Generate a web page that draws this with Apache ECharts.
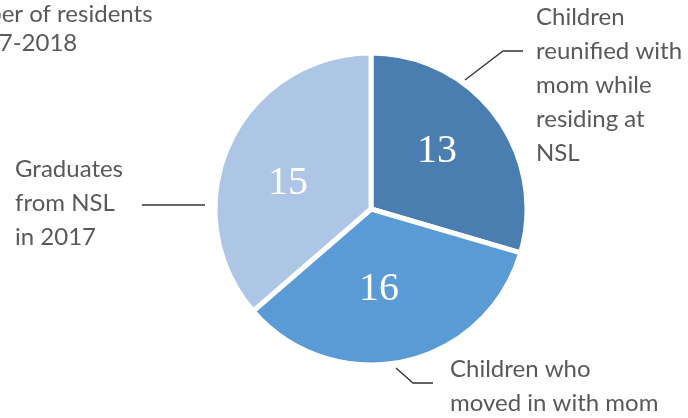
<!DOCTYPE html>
<html>
<head>
<meta charset="utf-8">
<script src="https://cdn.jsdelivr.net/npm/echarts@6/dist/echarts.min.js"></script>
<style>html,body{margin:0;padding:0;background:#fff}#c{width:688px;height:418px}</style>
</head>
<body>
<div id="c"></div>
<script>
const categories = [
  'Children\nreunified with\nmom while\nresiding at\nNSL',
  'Children who\nmoved in with mom',
  'Graduates\nfrom NSL\nin 2017'
];
// numbers printed on the slices
const values = [13, 16, 15];
// slice sizes as drawn in the picture (angles)
const sliceShares = [13, 15, 16];
const colors = ['#4a7eb0', '#5a9bd6', '#adc6e6'];
const titleLines = ['Number of residents', '2017-2018'];

// label layout (pixel positions for the 688x418 canvas)
const outerLabelPos = [
  { x: 536, y: 0, line: [[465, 80], [503, 51], [523, 51]] },
  { x: 450, y: 352, line: [[396, 368], [413, 383], [433, 383]] },
  { x: 15, y: 152, line: [[205, 205], [174, 205], [142, 205]] }
];
const innerLabelPos = [[437, 151], [379, 289], [288, 183]];

const data = categories.map((n, i) => ({ name: n, value: sliceShares[i], itemStyle: { color: colors[i] } }));
const titleStyle = { fontFamily: 'Lato', fontSize: 24, fontWeight: 'normal', color: '#595959', lineHeight: 29 };

const chart = echarts.init(document.getElementById('c'));
chart.setOption({
  animation: false,
  title: [
    { text: titleLines[0], left: -63, top: 0, padding: 0, textStyle: titleStyle },
    { text: titleLines[1], left: -43, top: 29, padding: 0, textStyle: titleStyle }
  ],
  series: [
    {
      type: 'pie', center: [371, 209], radius: 156, startAngle: 90, clockwise: true,
      itemStyle: { borderColor: '#fff', borderWidth: 5 },
      data: data,
      label: {
        show: true, position: 'outside', formatter: '{b}', overflow: 'none', width: 200,
        fontFamily: 'Lato', fontSize: 24, color: '#595959', lineHeight: 34
      },
      labelLine: { show: true, lineStyle: { color: '#333', width: 1.3 } },
      labelLayout: function (p) {
        const o = outerLabelPos[p.dataIndex];
        return { x: o.x, y: o.y, align: 'left', verticalAlign: 'top', labelLinePoints: o.line };
      },
      emphasis: { disabled: true }
    },
    {
      type: 'pie', center: [371, 209], radius: 156, startAngle: 90, clockwise: true, silent: true,
      itemStyle: { color: 'transparent', borderWidth: 0 },
      data: categories.map((n, i) => ({ name: n, value: sliceShares[i] })),
      label: {
        show: true, position: 'inside',
        formatter: function (p) { return String(values[p.dataIndex]); },
        fontFamily: 'Liberation Serif', fontSize: 40, color: '#fff'
      },
      labelLine: { show: false },
      labelLayout: function (p) {
        const o = innerLabelPos[p.dataIndex];
        return { x: o[0], y: o[1], align: 'center', verticalAlign: 'middle' };
      },
      emphasis: { disabled: true }
    }
  ]
});
</script>
</body>
</html>
